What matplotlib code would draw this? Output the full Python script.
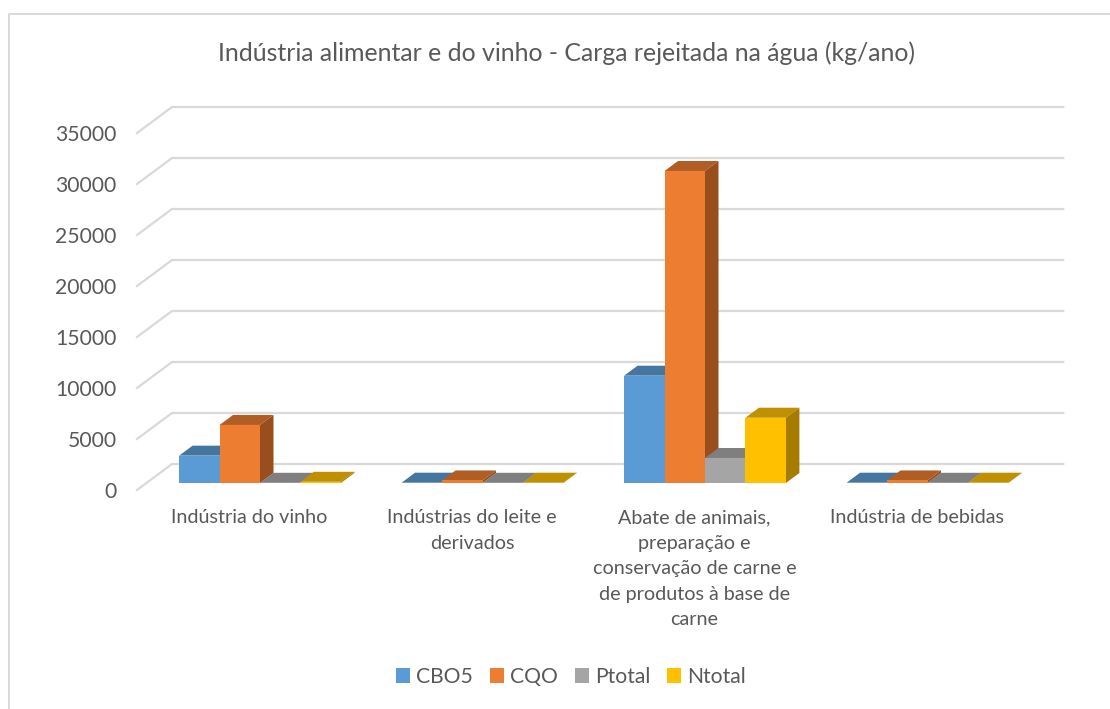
import matplotlib
matplotlib.use("Agg")
import matplotlib.pyplot as plt
from matplotlib.lines import Line2D
from matplotlib.patches import Patch, Polygon
from matplotlib.transforms import ScaledTranslation

plt.rcParams['font.family'] = ['Lato', 'DejaVu Sans']

# data
categories = ['Indústria do vinho',
              'Indústrias do leite e\nderivados',
              'Abate de animais,\npreparação e\nconservação de carne e\nde produtos à base de\ncarne',
              'Indústria de bebidas']
cbo5 = [2680, 30, 10520, 30]
cqo = [5690, 250, 30590, 250]
ptotal = [20, 20, 2450, 20]
ntotal = [120, 30, 6400, 30]
yticks = [0, 5000, 10000, 15000, 20000, 25000, 30000, 35000]

series_names = ['CBO5', 'CQO', 'Ptotal', 'Ntotal']
series_values = [cbo5, cqo, ptotal, ntotal]
# front, top, side
colors = [('#5B9BD5', '#4576A0', '#3A6A93'),
          ('#ED7D31', '#B15E24', '#984F1D'),
          ('#A5A5A5', '#7F7F7F', '#666666'),
          ('#FFC000', '#BF9000', '#A67C00')]

W, H = 1110, 709
fig = plt.figure(figsize=(W / 100, H / 100), dpi=100, facecolor='white')

# axes = the plane of the bars' front faces
left, right, top, bottom = 148.75, 1038.75, 126, 483
ax = fig.add_axes([left / W, 1 - bottom / H, (right - left) / W, (bottom - top) / H])
ax.set_xlim(0, 4)
ax.set_ylim(0, 35000)
ax.patch.set_visible(False)
for s in ax.spines.values():
    s.set_visible(False)

# one px in data units
px_x = 4 / (right - left)
px_y = 35000 / (bottom - top)

# floor / wall lines
for v in yticks:
    xs = [-11.75 * px_x, 23.25 * px_x, 4 + 24.5 * px_x]
    ys = [v - 7 * px_y, v + 19 * px_y, v + 19 * px_y]
    ax.plot(xs, ys, color='#D9D9D9', lw=1.6, clip_on=False, zorder=1)

# the bars, left to right so that the right one hides the left one
bar_w = 40.45 * px_x
dep_x = 13.5 * px_x
dep_y = 10 * px_y
start = 0.5 - 2 * bar_w
z = 2
for g in range(4):
    for i in range(4):
        x0 = g + start + i * bar_w
        x1 = x0 + bar_w
        v = series_values[i][g]
        front, top_c, side = colors[i]
        z += 1
        ax.add_patch(Polygon([(x0, v), (x1, v), (x1 + dep_x, v + dep_y), (x0 + dep_x, v + dep_y)],
                             fc=top_c, ec='none', clip_on=False, zorder=z))
        ax.add_patch(Polygon([(x1, 0), (x1 + dep_x, dep_y), (x1 + dep_x, v + dep_y), (x1, v)],
                             fc=side, ec='none', clip_on=False, zorder=z))
        ax.bar(x0, v, width=bar_w, align='edge', color=front, clip_on=False, zorder=z)

ax.set_xticks([g + 0.5 for g in range(4)])
ax.set_xticklabels(categories, fontsize=14.2, color='#595959', linespacing=1.6)
ax.set_yticks(yticks)
ax.set_yticklabels([str(v) for v in yticks], fontsize=15.2, color='#595959')
ax.tick_params(axis='both', length=0)
ax.tick_params(axis='x', pad=19)
ax.tick_params(axis='y', pad=23.2)

# labels sit on the front plane, not the bar plane
x_shift = ScaledTranslation(-10.5 / 100, 0, fig.dpi_scale_trans)
y_shift = ScaledTranslation(0, -6.5 / 100, fig.dpi_scale_trans)
for lab in ax.get_xticklabels():
    lab.set_transform(lab.get_transform() + x_shift)
for lab in ax.get_yticklabels():
    lab.set_transform(lab.get_transform() + y_shift)

fig.text(567 / W, 1 - 53 / H, 'Indústria alimentar e do vinho - Carga rejeitada na água (kg/ano)',
         fontsize=17.9, color='#595959', ha='center', va='center')

handles = [Patch(fc=colors[i][0], ec='none', label=series_names[i]) for i in range(4)]
fig.legend(handles=handles, loc='center', bbox_to_anchor=(571 / W, 1 - 677 / H), ncol=4,
           frameon=False, fontsize=15.2, labelcolor='#595959', handlelength=0.66, handleheight=0.66,
           handletextpad=0.3, columnspacing=0.8)

# chart area border, only top and left show in the crop
fig.add_artist(Line2D([8.8 / W, 8.8 / W, 1], [0, 1 - 13.5 / H, 1 - 13.5 / H],
                      transform=fig.transFigure, color='#D9D9D9', lw=1.4))

fig.savefig('out.png', dpi=100)
